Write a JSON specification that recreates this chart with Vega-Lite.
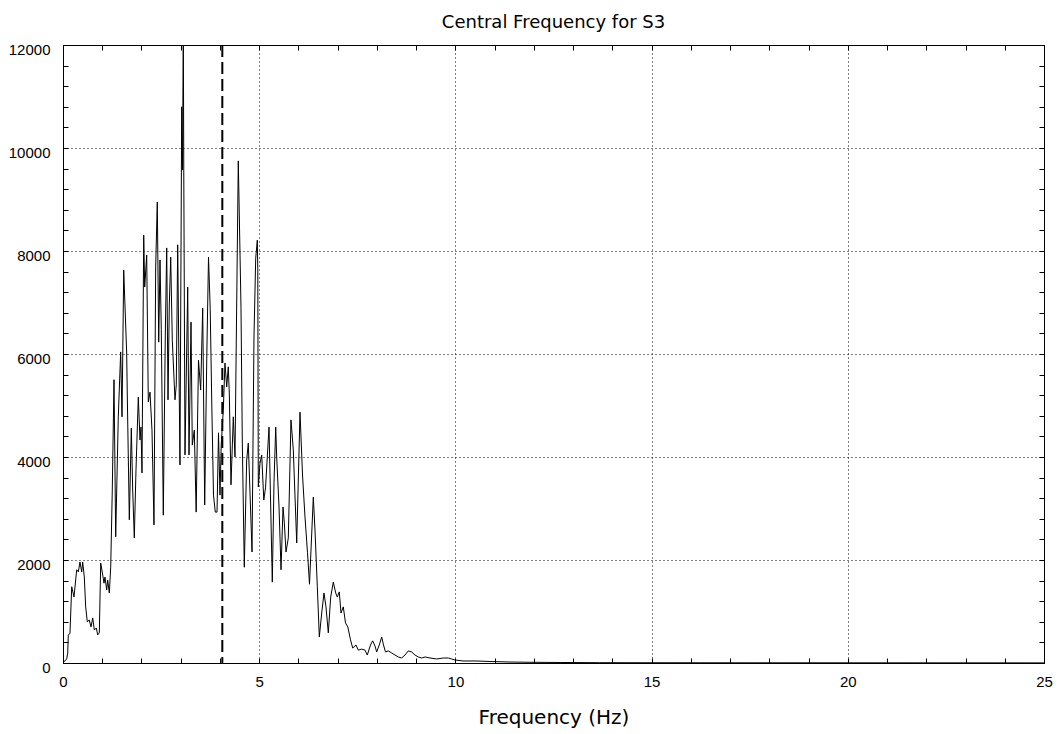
{
  "$schema": "https://vega.github.io/schema/vega-lite/v6.json",
  "width": 981,
  "height": 618,
  "autosize": "none",
  "padding": {"left": 63, "top": 45, "right": 17, "bottom": 71},
  "background": "white",
  "title": {"text": "Central Frequency for S3", "font": "DejaVu Sans", "fontSize": 18, "fontWeight": "normal", "color": "black", "anchor": "middle", "frame": "group", "offset": 16, "dy": 24, "baseline": "bottom"},
  "config": {"view": {"stroke": "black", "strokeWidth": 1}},
  "datasets": {
    "spec": [
      {"f": 0, "v": 20}, {"f": 0.051, "v": 40}, {"f": 0.094, "v": 80}, {"f": 0.12, "v": 190}, {"f": 0.135, "v": 540},
      {"f": 0.178, "v": 580}, {"f": 0.222, "v": 1480}, {"f": 0.28, "v": 1280}, {"f": 0.349, "v": 1810}, {"f": 0.39, "v": 1770},
      {"f": 0.433, "v": 1960}, {"f": 0.477, "v": 1770}, {"f": 0.502, "v": 1960}, {"f": 0.543, "v": 1670}, {"f": 0.578, "v": 1090},
      {"f": 0.619, "v": 800}, {"f": 0.67, "v": 835}, {"f": 0.714, "v": 700}, {"f": 0.757, "v": 875}, {"f": 0.798, "v": 640},
      {"f": 0.849, "v": 680}, {"f": 0.884, "v": 545}, {"f": 0.925, "v": 585}, {"f": 0.961, "v": 1940}, {"f": 1.012, "v": 1710},
      {"f": 1.045, "v": 1550}, {"f": 1.07, "v": 1670}, {"f": 1.114, "v": 1420}, {"f": 1.139, "v": 1610}, {"f": 1.18, "v": 1360},
      {"f": 1.216, "v": 1860}, {"f": 1.256, "v": 3360}, {"f": 1.3, "v": 5500}, {"f": 1.343, "v": 2450}, {"f": 1.409, "v": 4780},
      {"f": 1.47, "v": 6040}, {"f": 1.504, "v": 4780}, {"f": 1.547, "v": 7630}, {"f": 1.623, "v": 6020}, {"f": 1.639, "v": 5165},
      {"f": 1.69, "v": 2780}, {"f": 1.741, "v": 4560}, {"f": 1.776, "v": 3360}, {"f": 1.817, "v": 2430}, {"f": 1.86, "v": 3750},
      {"f": 1.919, "v": 5165}, {"f": 1.962, "v": 4330}, {"f": 1.988, "v": 4580}, {"f": 2.013, "v": 3690}, {"f": 2.057, "v": 8310},
      {"f": 2.082, "v": 7300}, {"f": 2.133, "v": 7920}, {"f": 2.174, "v": 5070}, {"f": 2.217, "v": 5260}, {"f": 2.268, "v": 4520},
      {"f": 2.319, "v": 2680}, {"f": 2.362, "v": 7690}, {"f": 2.403, "v": 8950}, {"f": 2.439, "v": 6230}, {"f": 2.472, "v": 7825},
      {"f": 2.505, "v": 6470}, {"f": 2.556, "v": 2870}, {"f": 2.607, "v": 6370}, {"f": 2.643, "v": 8060}, {"f": 2.676, "v": 5110},
      {"f": 2.709, "v": 6950}, {"f": 2.745, "v": 7880}, {"f": 2.785, "v": 6270}, {"f": 2.829, "v": 5530}, {"f": 2.854, "v": 5110},
      {"f": 2.887, "v": 5400}, {"f": 2.923, "v": 8120}, {"f": 2.981, "v": 3845}, {"f": 3.025, "v": 10800}, {"f": 3.045, "v": 9570},
      {"f": 3.066, "v": 12400}, {"f": 3.078, "v": 9570}, {"f": 3.109, "v": 4040}, {"f": 3.178, "v": 7300}, {"f": 3.211, "v": 4040},
      {"f": 3.262, "v": 6620}, {"f": 3.295, "v": 4230}, {"f": 3.346, "v": 4520}, {"f": 3.394, "v": 2930}, {"f": 3.453, "v": 5880},
      {"f": 3.509, "v": 5300}, {"f": 3.56, "v": 6890}, {"f": 3.611, "v": 3070}, {"f": 3.665, "v": 5980}, {"f": 3.708, "v": 7880},
      {"f": 3.751, "v": 6890}, {"f": 3.792, "v": 5010}, {"f": 3.835, "v": 3260}, {"f": 3.881, "v": 2930}, {"f": 3.925, "v": 2930},
      {"f": 3.963, "v": 4470}, {"f": 4.001, "v": 3260}, {"f": 4.032, "v": 4230}, {"f": 4.085, "v": 4910}, {"f": 4.128, "v": 5825},
      {"f": 4.172, "v": 5360}, {"f": 4.212, "v": 5750}, {"f": 4.238, "v": 5240}, {"f": 4.281, "v": 3460}, {"f": 4.34, "v": 4780},
      {"f": 4.383, "v": 4000}, {"f": 4.467, "v": 9750}, {"f": 4.536, "v": 6910}, {"f": 4.569, "v": 4330}, {"f": 4.62, "v": 1860},
      {"f": 4.681, "v": 3940}, {"f": 4.722, "v": 4270}, {"f": 4.766, "v": 3300}, {"f": 4.817, "v": 2155}, {"f": 4.867, "v": 6330},
      {"f": 4.911, "v": 7860}, {"f": 4.952, "v": 8210}, {"f": 4.964, "v": 7630}, {"f": 4.977, "v": 3420}, {"f": 5.02, "v": 3880},
      {"f": 5.064, "v": 4040}, {"f": 5.117, "v": 3165}, {"f": 5.161, "v": 3400}, {"f": 5.25, "v": 4580}, {"f": 5.334, "v": 1570},
      {"f": 5.377, "v": 3500}, {"f": 5.421, "v": 4580}, {"f": 5.446, "v": 4000}, {"f": 5.505, "v": 3030}, {"f": 5.556, "v": 1810},
      {"f": 5.607, "v": 3030}, {"f": 5.64, "v": 2720}, {"f": 5.683, "v": 2155}, {"f": 5.742, "v": 2430}, {"f": 5.81, "v": 4720},
      {"f": 5.869, "v": 4140}, {"f": 5.956, "v": 2330}, {"f": 6.04, "v": 4870}, {"f": 6.104, "v": 3650}, {"f": 6.167, "v": 2835},
      {"f": 6.231, "v": 2140}, {"f": 6.282, "v": 1530}, {"f": 6.379, "v": 3220}, {"f": 6.422, "v": 2580}, {"f": 6.481, "v": 1480},
      {"f": 6.532, "v": 505}, {"f": 6.593, "v": 970}, {"f": 6.651, "v": 1360}, {"f": 6.702, "v": 1090}, {"f": 6.761, "v": 585},
      {"f": 6.822, "v": 1280}, {"f": 6.888, "v": 1570}, {"f": 6.95, "v": 1360}, {"f": 6.99, "v": 1280}, {"f": 7.041, "v": 1380},
      {"f": 7.085, "v": 970}, {"f": 7.143, "v": 1090}, {"f": 7.199, "v": 780}, {"f": 7.258, "v": 700}, {"f": 7.327, "v": 450},
      {"f": 7.383, "v": 290}, {"f": 7.467, "v": 350}, {"f": 7.526, "v": 250}, {"f": 7.612, "v": 270}, {"f": 7.696, "v": 250},
      {"f": 7.755, "v": 155}, {"f": 7.836, "v": 350}, {"f": 7.892, "v": 430}, {"f": 7.951, "v": 330}, {"f": 7.994, "v": 215},
      {"f": 8.06, "v": 350}, {"f": 8.122, "v": 505}, {"f": 8.168, "v": 350}, {"f": 8.219, "v": 215}, {"f": 8.29, "v": 235},
      {"f": 8.377, "v": 195}, {"f": 8.461, "v": 155}, {"f": 8.545, "v": 117}, {"f": 8.631, "v": 97}, {"f": 8.716, "v": 155},
      {"f": 8.8, "v": 235}, {"f": 8.886, "v": 215}, {"f": 8.97, "v": 155}, {"f": 9.055, "v": 117}, {"f": 9.141, "v": 97},
      {"f": 9.225, "v": 117}, {"f": 9.353, "v": 97}, {"f": 9.523, "v": 78}, {"f": 9.692, "v": 97}, {"f": 9.819, "v": 97},
      {"f": 9.906, "v": 78}, {"f": 9.99, "v": 58}, {"f": 10.194, "v": 39}, {"f": 10.55, "v": 39}, {"f": 10.88, "v": 29},
      {"f": 11.39, "v": 19}, {"f": 11.9, "v": 14}, {"f": 12.67, "v": 10}, {"f": 13.68, "v": 6}, {"f": 16.23, "v": 4},
      {"f": 25, "v": 2}
    ]
  },
  "layer": [
    {
      "data": {"name": "spec"},
      "mark": {"type": "line", "color": "black", "strokeWidth": 1, "clip": true},
      "encoding": {
        "x": {
          "field": "f", "type": "quantitative",
          "scale": {"domain": [0, 25], "nice": false, "zero": false},
          "axis": {
            "orient": "bottom",
            "values": [0,1,2,3,4,5,6,7,8,9,10,11,12,13,14,15,16,17,18,19,20,21,22,23,24,25],
            "labelExpr": "datum.value % 5 === 0 ? datum.label : ''",
            "labelOverlap": false, "labelFlush": false,
            "grid": true, "gridColor": "black", "gridDash": [1, 3], "gridWidth": 1,
            "gridOpacity": {"condition": {"test": "datum.value % 5 === 0", "value": 1}, "value": 0},
            "tickSize": -5, "tickColor": "black", "tickWidth": 1,
            "domainColor": "black", "domainWidth": 1,
            "labelFont": "Liberation Sans", "labelFontSize": 15, "labelColor": "black", "labelPadding": 16,
            "title": "Frequency (Hz)", "titleFont": "DejaVu Sans", "titleFontSize": 20, "titleFontWeight": "normal", "titleColor": "black", "titlePadding": 18
          }
        },
        "y": {
          "field": "v", "type": "quantitative",
          "scale": {"domain": [0, 12000], "nice": false},
          "axis": {
            "orient": "left",
            "values": [0,400,800,1200,1600,2000,2400,2800,3200,3600,4000,4400,4800,5200,5600,6000,6400,6800,7200,7600,8000,8400,8800,9200,9600,10000,10400,10800,11200,11600,12000],
            "format": "d",
            "labelExpr": "datum.value % 2000 === 0 ? datum.label : ''",
            "labelOverlap": false, "labelFlush": false,
            "grid": true, "gridColor": "black", "gridDash": [1, 3], "gridWidth": 1,
            "gridOpacity": {"condition": {"test": "datum.value % 2000 === 0", "value": 1}, "value": 0},
            "tickSize": -5, "tickColor": "black", "tickWidth": 1,
            "domainColor": "black", "domainWidth": 1,
            "labelFont": "Liberation Sans", "labelFontSize": 15, "labelColor": "black", "labelPadding": 18, "labelOffset": 4,
            "title": null
          }
        }
      }
    },
    {
      "data": {"values": [{"f": 4.06}]},
      "mark": {"type": "rule", "color": "black", "strokeWidth": 2, "strokeDash": [12, 5]},
      "encoding": {
        "x": {"field": "f", "type": "quantitative", "axis": null}
      }
    },
    {
      "data": {"name": "spec"},
      "mark": {"type": "line", "opacity": 0, "clip": true},
      "encoding": {
        "x": {
          "field": "f", "type": "quantitative",
          "axis": {
            "orient": "top",
            "values": [0,1,2,3,4,5,6,7,8,9,10,11,12,13,14,15,16,17,18,19,20,21,22,23,24,25],
            "labels": false, "grid": false, "title": null,
            "tickSize": -5, "tickColor": "black", "domainColor": "black"
          }
        },
        "y": {
          "field": "v", "type": "quantitative",
          "axis": {
            "orient": "right",
            "values": [0,400,800,1200,1600,2000,2400,2800,3200,3600,4000,4400,4800,5200,5600,6000,6400,6800,7200,7600,8000,8400,8800,9200,9600,10000,10400,10800,11200,11600,12000],
            "labels": false, "grid": false, "title": null,
            "tickSize": -5, "tickColor": "black", "domainColor": "black"
          }
        }
      }
    }
  ],
  "resolve": {"axis": {"x": "independent", "y": "independent"}}
}
